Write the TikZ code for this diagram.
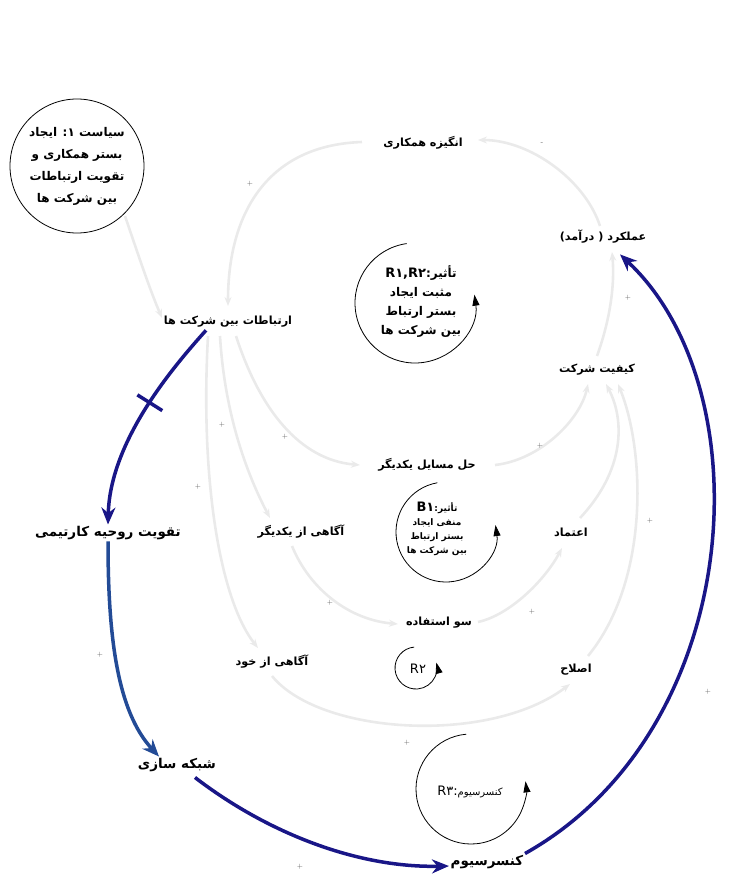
\documentclass[tikz,border=0pt]{standalone}
\usepackage{fontspec}
\newfontfamily\fa[Script=Arabic]{DejaVu Sans}
\TeXXeTstate=1
\usetikzlibrary{arrows.meta,calc}
\newcommand\RL[1]{\beginR#1\endR}
\newcommand\LR[1]{\beginL#1\endL}
\definecolor{navyb}{RGB}{25,22,135}
\definecolor{steelb}{RGB}{35,75,150}
\definecolor{faintg}{RGB}{234,234,234}
\begin{document}
\begin{tikzpicture}[x=1pt,y=1pt,
  lbl/.style={font=\fa\bfseries\fontsize{11.2}{14}\selectfont, inner sep=1.5pt},
  blbl/.style={font=\fa\bfseries\fontsize{13.5}{16}\selectfont, inner sep=1.5pt},
  looptxt/.style={font=\fa\bfseries\fontsize{12}{19}\selectfont, align=center, inner sep=0pt},
  loopc/.style={draw, line width=0.8pt, -{Triangle[length=11pt,width=7pt]}},
  bluearr/.style={draw=navyb, line width=3.5pt, -{Stealth[length=17pt,width=14pt]}},
  faintarr/.style={draw=faintg, line width=2.6pt, -{Stealth[length=9pt,width=7pt]}},
  sgn/.style={font=\fontsize{7}{8}\selectfont, text=black!65, inner sep=0pt}
]
\useasboundingbox (0,0) rectangle (753,-878);

% ---- faint connectors ----
\begin{scope}
\coordinate (angW) at (362,-142);
\coordinate (angE) at (478,-140);
\draw[faintarr] (angW) .. controls (270,-145) and (228,-210) .. (228,-306);
\draw[faintarr] (600,-226) .. controls (585,-180) and (530,-140) .. (angE);
\draw[faintarr] (597,-356) .. controls (610,-320) and (615,-285) .. (612,-252);
\draw[faintarr] (236,-336) .. controls (260,-410) and (300,-460) .. (360,-465);
\draw[faintarr] (495,-465) .. controls (540,-460) and (580,-420) .. (588,-384);
\draw[faintarr] (220,-336) .. controls (225,-420) and (250,-480) .. (270,-518);
\draw[faintarr] (292,-546) .. controls (310,-590) and (350,-620) .. (398,-624);
\draw[faintarr] (478,-622) .. controls (510,-615) and (545,-580) .. (562,-548);
\draw[faintarr] (580,-518) .. controls (625,-470) and (625,-420) .. (606,-384);
\draw[faintarr] (208,-336) .. controls (200,-480) and (220,-600) .. (258,-648);
\draw[faintarr] (272,-676) .. controls (320,-735) and (490,-745) .. (570,-684);
\draw[faintarr] (588,-656) .. controls (650,-580) and (645,-450) .. (618,-384);
\draw[faintarr] (125,-216) .. controls (140,-260) and (150,-290) .. (162,-318);
\end{scope}

% ---- variable nodes ----
\node[blbl, font=\fa\bfseries\fontsize{11.2}{14}\selectfont] (angize) at (423,-143) {\RL{انگیزه همکاری}};
\node[lbl] (amalkard) at (603,-237) {\RL{عملکرد ( درآمد)}};
\node[lbl] (ertebat) at (228,-322) {\RL{ارتباطات بین شرکت ها}};
\node[lbl] (keyfiat) at (597,-370) {\RL{کیفیت شرکت}};
\node[lbl] (hal) at (427,-465) {\RL{حل مسایل یکدیگر}};
\node[lbl] (agahiy) at (301,-532) {\RL{آگاهی از یکدیگر}};
\node[lbl] (etemad) at (571,-532) {\RL{اعتماد}};
\node[lbl] (suest) at (439,-623) {\RL{سو استفاده}};
\node[lbl] (agahik) at (272,-662) {\RL{آگاهی از خود}};
\node[lbl] (eslah) at (576,-670) {\RL{اصلاح}};
\node[blbl] (ruhie) at (108,-533) {\RL{تقویت روحیه کارتیمی}};
\node[blbl] (shabake) at (177,-765) {\RL{شبکه سازی}};
\node[blbl] (kons) at (487,-862) {\RL{کنسرسیوم}};

% ---- policy circle ----
\node[draw, circle, line width=0.8pt, minimum size=134pt, inner sep=0pt, align=center,
      font=\fa\bfseries\fontsize{12}{22}\selectfont] (policy) at (77,-166)
  {\RL{سیاست ۱: ایجاد}\\\RL{بستر همکاری و}\\\RL{تقویت ارتباطات}\\\RL{بین شرکت ها}};

% ---- loop markers ----
\draw[loopc] (415,-303) ++(98:60) arc[start angle=98, end angle=368, radius=60];
\node[looptxt] (r12) at (421,-302) {\RL{تأثیر:\LR{\fontsize{13}{15}\selectfont R۱,R۲}}\\\RL{مثبت ایجاد}\\\RL{بستر ارتباط}\\\RL{بین شرکت ها}};

\draw[loopc] (446,-532) ++(100:50) arc[start angle=100, end angle=368, radius=50];
\node[looptxt, font=\fa\bfseries\fontsize{9}{14}\selectfont] (b1) at (437,-529) {\RL{تأثیر:\LR{\fontsize{13}{15}\selectfont B۱}}\\\RL{منفی ایجاد}\\\RL{بستر ارتباط}\\\RL{بین شرکت ها}};

\draw[loopc] (416,-668) ++(95:21) arc[start angle=95, end angle=375, radius=21];
\node[looptxt, font=\fa\fontsize{13}{15}\selectfont] (r2) at (418,-669) {\LR{R۲}};

\draw[loopc] (471,-789) ++(95:55) arc[start angle=95, end angle=368, radius=55];
\node[looptxt, font=\fa\fontsize{13}{15}\selectfont] (r3) at (470,-792) {\RL{{\fontsize{10}{12}\selectfont کنسرسیوم}:\LR{R۳}}};

% ---- blue connectors ----
\draw[bluearr] ([xshift=-22pt,yshift=-1pt]ertebat.south) .. controls (175,-365) and (110,-440) .. (ruhie.north)
  node[pos=0.47, sloped, minimum height=26pt, minimum width=0pt, inner sep=0pt] (delay) {};
\draw[navyb, line width=3.5pt] (delay.north) -- (delay.south);
\draw[bluearr, draw=steelb] (ruhie.south) .. controls (108,-640) and (118,-712) .. ([xshift=-18pt]shabake.north);
\draw[bluearr] ([xshift=18pt,yshift=-4pt]shabake.south) .. controls (270,-835) and (360,-868) .. ([yshift=-4pt]kons.west);
\draw[bluearr] ([xshift=38pt]kons.north) .. controls (745,-730) and (765,-390) .. ([xshift=17pt,yshift=-9pt]amalkard.south);

% ---- polarity signs ----
\node[sgn] (s1) at (542,-144) {-};
\node[sgn] (s2) at (250,-184) {+};
\node[sgn] (s3) at (628,-298) {+};
\node[sgn] (s4) at (222,-425) {+};
\node[sgn] (s5) at (285,-437) {+};
\node[sgn] (s6) at (198,-487) {+};
\node[sgn] (s7) at (540,-446) {+};
\node[sgn] (s8) at (650,-521) {+};
\node[sgn] (s9) at (330,-603) {+};
\node[sgn] (s10) at (532,-612) {+};
\node[sgn] (s11) at (100,-655) {+};
\node[sgn] (s12) at (407,-743) {+};
\node[sgn] (s13) at (708,-692) {+};
\node[sgn] (s14) at (300,-867) {+};
\end{tikzpicture}
\end{document}
